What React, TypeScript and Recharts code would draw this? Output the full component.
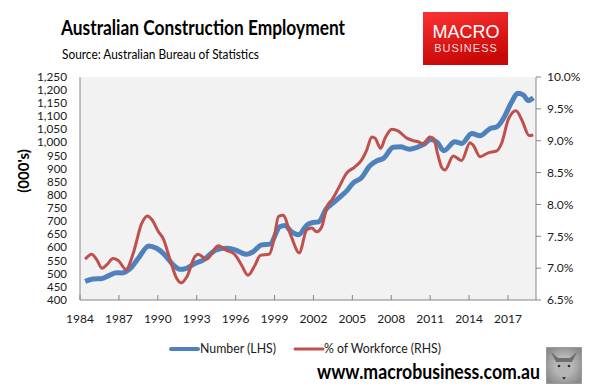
import { CartesianGrid, Line, LineChart, XAxis, YAxis } from "recharts";

// Number employed in construction ('000s)
const numberYears = [
  1984.4, 1985.0, 1985.7, 1986.3, 1986.8, 1987.2, 1987.5, 1987.9, 1988.5, 1989.3,
  1989.9, 1990.55, 1991.2, 1991.7, 1992.2, 1992.9, 1993.5, 1994.5, 1995.3, 1995.95,
  1996.85, 1997.35, 1998.0, 1998.65, 1999.4, 1999.8, 2000.3, 2000.85, 2001.5, 2001.85,
  2002.4, 2003.0, 2003.5, 2004.1, 2004.6, 2005.05, 2005.7, 2006.35, 2006.9, 2007.4,
  2008.15, 2008.7, 2009.4, 2010.1, 2010.5, 2011.05, 2011.55, 2012.05, 2012.9, 2013.45,
  2014.2, 2014.85, 2015.6, 2016.15, 2016.65, 2017.3, 2017.75, 2018.2, 2018.55, 2018.95,
];
const numberValues = [
  471, 480, 482, 495, 504, 503, 507, 521, 559, 606,
  597, 571, 533, 517, 521, 540, 552, 591, 597, 591,
  574, 584, 610, 613, 679, 684, 660, 649, 686, 694,
  698, 748, 769, 795, 818, 845, 866, 912, 931, 940,
  982, 984, 975, 984, 993, 1012, 1001, 969, 1003, 997,
  1035, 1026, 1053, 1060, 1092, 1156, 1188, 1181, 1160, 1171,
];

// Construction as % of total workforce
const pctYears = [
  1984.4, 1984.9, 1985.3, 1985.7, 1986.05, 1986.55, 1986.95, 1987.55, 1988.1, 1988.75,
  1989.2, 1989.55, 1990.05, 1990.4, 1990.95, 1991.45, 1991.8, 1992.25, 1992.85, 1993.1,
  1993.75, 1994.65, 1995.3, 1995.95, 1996.45, 1996.95, 1997.5, 1997.9, 1998.6, 1998.95,
  1999.3, 1999.65, 2000.3, 2000.9, 2001.48, 2001.86, 2002.25, 2002.64, 2003.05, 2003.45,
  2003.92, 2004.56, 2005.2, 2005.72, 2006.1, 2006.5, 2006.75, 2007.18, 2007.52, 2008.05,
  2008.55, 2009.2, 2009.7, 2010.1, 2010.47, 2010.98, 2011.24, 2011.63, 2011.89, 2012.14,
  2012.78, 2013.43, 2014.07, 2014.32, 2014.84, 2015.48, 2016.13, 2016.51, 2017.02, 2017.62,
  2018.06, 2018.64, 2018.95,
];
const pctValues = [
  7.14, 7.22, 7.13, 7.0, 7.05, 7.15, 7.12, 6.98, 7.23, 7.7,
  7.82, 7.76, 7.57, 7.47, 7.13, 6.84, 6.77, 6.87, 7.18, 7.22,
  7.14, 7.35, 7.28, 7.21, 7.05, 6.89, 7.05, 7.2, 7.22, 7.45,
  7.81, 7.83, 7.49, 7.24, 7.6, 7.63, 7.57, 7.65, 7.97, 8.08,
  8.25, 8.49, 8.59, 8.7, 8.85, 9.06, 9.04, 8.88, 9.04, 9.18,
  9.15, 9.04, 9.0, 8.98, 8.95, 9.06, 9.04, 8.75, 8.58, 8.54,
  8.76, 8.69, 8.97, 8.93, 8.75, 8.81, 8.84, 8.96, 9.33, 9.47,
  9.33, 9.08, 9.09,
];

const yearTicks = [1984, 1987, 1990, 1993, 1996, 1999, 2002, 2005, 2008, 2011, 2014, 2017];
const lhsTicks = [
  400, 450, 500, 550, 600, 650, 700, 750, 800, 850, 900, 950, 1000, 1050, 1100, 1150, 1200, 1250,
];
const rhsTicks = [6.5, 7, 7.5, 8, 8.5, 9, 9.5, 10];

const numberData = numberYears.map((t, i) => ({ t, v: numberValues[i] }));
const pctData = pctYears.map((t, i) => ({ t, p: pctValues[i] }));

const BLUE = "#4f81bd";
const RED = "#c0504d";
const AXIS = "#868686";
const FONT = "Lato, 'Open Sans', sans-serif";
const tickFont = { fontFamily: FONT, fontSize: 12, fill: "#1a1a1a" };
const lhsFont = { fontFamily: FONT, fontSize: 10.8, fill: "#1a1a1a" };

function YearTick({ x, y, payload }: any) {
  return (
    <g>
      <line x1={x} x2={x} y1={y - 14} y2={y - 19} stroke={AXIS} />
      <text x={x} y={y} dy="0.71em" textAnchor="middle" {...tickFont}>
        {payload.value}
      </text>
    </g>
  );
}

function LhsTick({ x, y, payload }: any) {
  return (
    <text
      x={x}
      y={y}
      dy="0.36em"
      textAnchor="end"
      textLength={payload.value >= 1000 ? 30 : 20}
      lengthAdjust="spacingAndGlyphs"
      {...lhsFont}
    >
      {payload.value.toLocaleString("en-US")}
    </text>
  );
}

function Overlay() {
  return (
    <svg
      width={599}
      height={391}
      style={{ position: "absolute", left: 0, top: 0, pointerEvents: "none" }}
    >
      <defs>
        <linearGradient id="logo" x1="0" y1="0" x2="0.3" y2="1">
          <stop offset="0" stopColor="#fb3232" />
          <stop offset="1" stopColor="#c80808" />
        </linearGradient>
        <radialGradient id="fox" cx="0.5" cy="0.5" r="0.6">
          <stop offset="0" stopColor="#d8d8d8" />
          <stop offset="1" stopColor="#8a8a8a" />
        </radialGradient>
      </defs>
      <text
        x={61}
        y={35}
        fontFamily={FONT}
        fontWeight={700}
        fontSize={20}
        textLength={284}
        lengthAdjust="spacingAndGlyphs"
        fill="#000"
      >
        Australian Construction Employment
      </text>
      <text
        x={62}
        y={59}
        fontFamily={FONT}
        fontSize={13.5}
        textLength={197}
        lengthAdjust="spacingAndGlyphs"
        fill="#000"
      >
        Source: Australian Bureau of Statistics
      </text>

      <rect x={423} y={12} width={85} height={53} fill="url(#logo)" />
      <text x={466} y={38} textAnchor="middle" fontFamily="'Liberation Sans', Arial" fontSize={18} fill="#fff">
        MACRO
      </text>
      <text
        x={466}
        y={52}
        textAnchor="middle"
        fontFamily="'Liberation Sans', Arial"
        fontSize={11}
        letterSpacing={1}
        fill="#f4dede"
      >
        BUSINESS
      </text>

      <text
        transform="translate(29,171) rotate(-90)"
        textAnchor="middle"
        fontFamily={FONT}
        fontWeight={700}
        fontSize={15}
        fill="#000"
      >
        (000's)
      </text>

      <line x1={171} x2={198} y1={349} y2={349} stroke={BLUE} strokeWidth={4} strokeLinecap="round" />
      <text
        x={200}
        y={353}
        fontFamily={FONT}
        fontSize={12.5}
        textLength={76}
        lengthAdjust="spacingAndGlyphs"
        fill="#1a1a1a"
      >
        Number (LHS)
      </text>
      <line x1={295} x2={323} y1={349} y2={349} stroke={RED} strokeWidth={3} strokeLinecap="round" />
      <text
        x={324}
        y={353}
        fontFamily={FONT}
        fontSize={12.5}
        textLength={117}
        lengthAdjust="spacingAndGlyphs"
        fill="#1a1a1a"
      >
        % of Workforce (RHS)
      </text>

      <text
        x={317}
        y={379}
        fontFamily={FONT}
        fontWeight={700}
        fontSize={20}
        textLength={223}
        lengthAdjust="spacingAndGlyphs"
        fill="#000"
      >
        www.macrobusiness.com.au
      </text>

      <rect x={546.5} y={347.5} width={35} height={36} fill="url(#fox)" stroke="#9a9a9a" />
      <path d="M551 352 L557 364 L571 364 L577 352 L570 358 L558 358 Z" fill="#6e6e6e" />
      <path d="M556 362 L572 362 L569 376 L564 381 L559 376 Z" fill="#b4b4b4" />
      <circle cx={559} cy={366} r={1.3} fill="#333" />
      <circle cx={569} cy={366} r={1.3} fill="#333" />
      <path d="M562 377 L566 377 L564 380 Z" fill="#333" />
    </svg>
  );
}

export default function App() {
  return (
    <div style={{ position: "absolute", left: 0, top: 0, width: 599, height: 391, background: "#fff" }}>
      <LineChart width={599} height={391} margin={{ top: 77, right: 13, bottom: 61, left: 10 }}>
        <CartesianGrid fill="#f2f2f2" horizontal={false} vertical={false} />
        <XAxis
          type="number"
          dataKey="t"
          domain={[1984, 2019.16]}
          ticks={yearTicks}
          allowDataOverflow
          height={30}
          stroke={AXIS}
          tickLine={false}
          tickSize={0}
          tickMargin={14}
          tick={<YearTick />}
        />
        <YAxis
          yAxisId="lhs"
          orientation="left"
          domain={[400, 1250]}
          ticks={lhsTicks}
          interval={0}
          width={70}
          stroke={AXIS}
          tickLine={false}
          tickSize={0}
          tickMargin={13}
          tick={<LhsTick />}
        />
        <YAxis
          yAxisId="rhs"
          orientation="right"
          domain={[6.5, 10]}
          ticks={rhsTicks}
          interval={0}
          width={50}
          stroke={AXIS}
          tickSize={5}
          tickMargin={6}
          tick={tickFont}
          tickFormatter={(v: number) => v.toFixed(1) + "%"}
        />
        <Line
          yAxisId="lhs"
          data={numberData}
          dataKey="v"
          name="Number (LHS)"
          type="monotone"
          stroke={BLUE}
          strokeWidth={5}
          dot={false}
          isAnimationActive={false}
        />
        <Line
          yAxisId="rhs"
          data={pctData}
          dataKey="p"
          name="% of Workforce (RHS)"
          type="monotone"
          stroke={RED}
          strokeWidth={3}
          dot={false}
          isAnimationActive={false}
        />
      </LineChart>
      <Overlay />
    </div>
  );
}
